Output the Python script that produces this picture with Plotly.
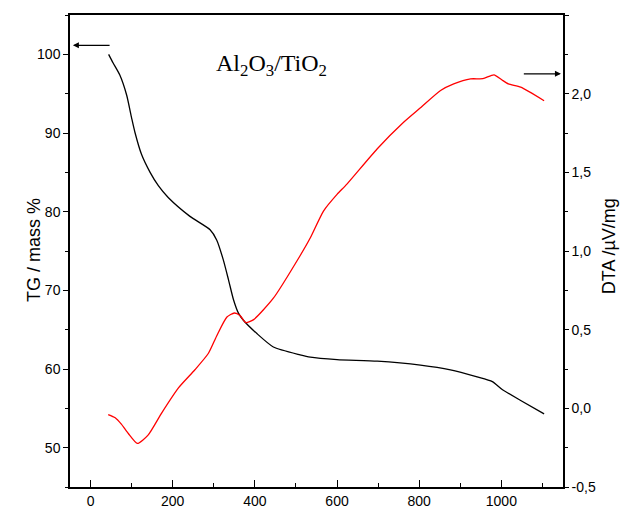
import plotly.graph_objects as go

# TG curve (black), temperature in °C, mass %
tg_temp = [44, 55, 71, 88, 100, 108, 124, 145, 165, 189, 242, 291, 307, 323, 336, 348,
           360, 372, 405, 445, 510, 535, 600, 698, 803, 876, 941, 978, 1002, 1047, 1104]
tg_mass = [100.0, 98.9, 97.4, 94.8, 91.9, 90.1, 87.3, 85.0, 83.3, 81.8, 79.4, 77.7, 76.4, 73.9, 71.3, 68.8,
           67.1, 66.2, 64.5, 62.8, 61.8, 61.5, 61.2, 61.0, 60.5, 59.9, 59.0, 58.4, 57.4, 56.0, 54.3]

# DTA curve (red), µV/mg
dta_temp = [43, 60, 75, 92, 114, 140, 173, 214, 254, 287, 307, 332, 350, 364, 378, 397,
            445, 510, 535, 567, 600, 624, 698, 762, 803, 852, 884, 925, 955, 982, 1000,
            1017, 1047, 1104]
dta_val = [-0.04, -0.06, -0.10, -0.16, -0.223, -0.17, -0.03, 0.13, 0.245, 0.35, 0.46, 0.58, 0.606, 0.59, 0.545, 0.564,
           0.70, 0.97, 1.084, 1.254, 1.36, 1.425, 1.65, 1.818, 1.91, 2.02, 2.062, 2.094, 2.095, 2.12, 2.09,
           2.062, 2.041, 1.955]

x_ticks = [0, 200, 400, 600, 800, 1000]
tg_ticks = [50, 60, 70, 80, 90, 100]
dta_tickvals = [-0.5, 0.0, 0.5, 1.0, 1.5, 2.0, 2.5]
dta_ticktext = ["-0,5", "0,0", "0,5", "1,0", "1,5", "2,0", "2,5"]

fig = go.Figure()
fig.add_trace(go.Scatter(x=tg_temp, y=tg_mass, mode="lines",
                         line=dict(color="black", width=1.3, shape="spline", smoothing=0.6),
                         showlegend=False))
fig.add_trace(go.Scatter(x=dta_temp, y=dta_val, mode="lines", yaxis="y2",
                         line=dict(color="#ff0000", width=1.3, shape="spline", smoothing=0.6),
                         showlegend=False))

sans = "Liberation Sans, Arial, sans-serif"
tickfont = dict(family=sans, size=14, color="black")

# page body has an 8px margin, so the figure is sized to fit the remaining window
fig.update_layout(
    width=622, height=499,
    margin=dict(l=62, r=67, t=7, b=20),
    paper_bgcolor="white", plot_bgcolor="white",
    xaxis=dict(range=[-50, 1150], tickvals=x_ticks, ticks="inside", ticklen=7,
               tickwidth=1.3, tickcolor="black", automargin=False,
               minor=dict(dtick=100, tick0=0, ticks="inside", ticklen=4, tickcolor="black", tickwidth=1),
               showline=True, linecolor="black", linewidth=1.5, mirror=True,
               showgrid=False, zeroline=False, tickfont=tickfont),
    yaxis=dict(range=[45, 105], tickvals=tg_ticks, ticks="outside", ticklen=5,
               tickwidth=1.3, tickcolor="black", automargin=False,
               minor=dict(dtick=5, tick0=0, ticks="outside", ticklen=3, tickcolor="black", tickwidth=1),
               showline=True, linecolor="black", linewidth=1.5,
               showgrid=False, zeroline=False, tickfont=tickfont),
    yaxis2=dict(range=[-0.5, 2.5], overlaying="y", side="right",
                tickvals=dta_tickvals, ticktext=dta_ticktext, ticks="outside", ticklen=4,
                tickwidth=1.3, tickcolor="black", automargin=False,
                minor=dict(dtick=0.25, tick0=0, ticks="outside", ticklen=3, tickcolor="black", tickwidth=1),
                showline=True, linecolor="black", linewidth=1.5,
                showgrid=False, zeroline=False, tickfont=tickfont),
)

# Axis titles
fig.add_annotation(xref="paper", yref="paper", x=-0.0974, y=0.502, text="TG / mass %",
                   textangle=-90, showarrow=False, font=dict(family=sans, size=18, color="black"))
fig.add_annotation(xref="paper", yref="paper", x=1.1176, y=0.51, text="DTA /µV/mg",
                   textangle=-90, showarrow=False, font=dict(family=sans, size=18, color="black"))

# Title label
fig.add_annotation(xref="paper", yref="paper", x=0.408, y=0.93,
                   text="Al<sub>2</sub>O<sub>3</sub>/TiO<sub>2</sub>", showarrow=False,
                   font=dict(family="Liberation Serif, Times New Roman, serif", size=24, color="black"))

# Arrow pointing to left axis (TG)
fig.add_annotation(xref="x", yref="y", x=-43, y=101.15, ax=50, ay=101.15,
                   axref="x", ayref="y", text="", showarrow=True,
                   arrowhead=2, arrowsize=1, arrowwidth=1.2, arrowcolor="black")
# Arrow pointing to right axis (DTA)
fig.add_annotation(xref="x", yref="y2", x=1145, y=2.126, ax=1051, ay=2.126,
                   axref="x", ayref="y2", text="", showarrow=True,
                   arrowhead=2, arrowsize=1, arrowwidth=1.2, arrowcolor="black")

fig.write_html("out.html")
